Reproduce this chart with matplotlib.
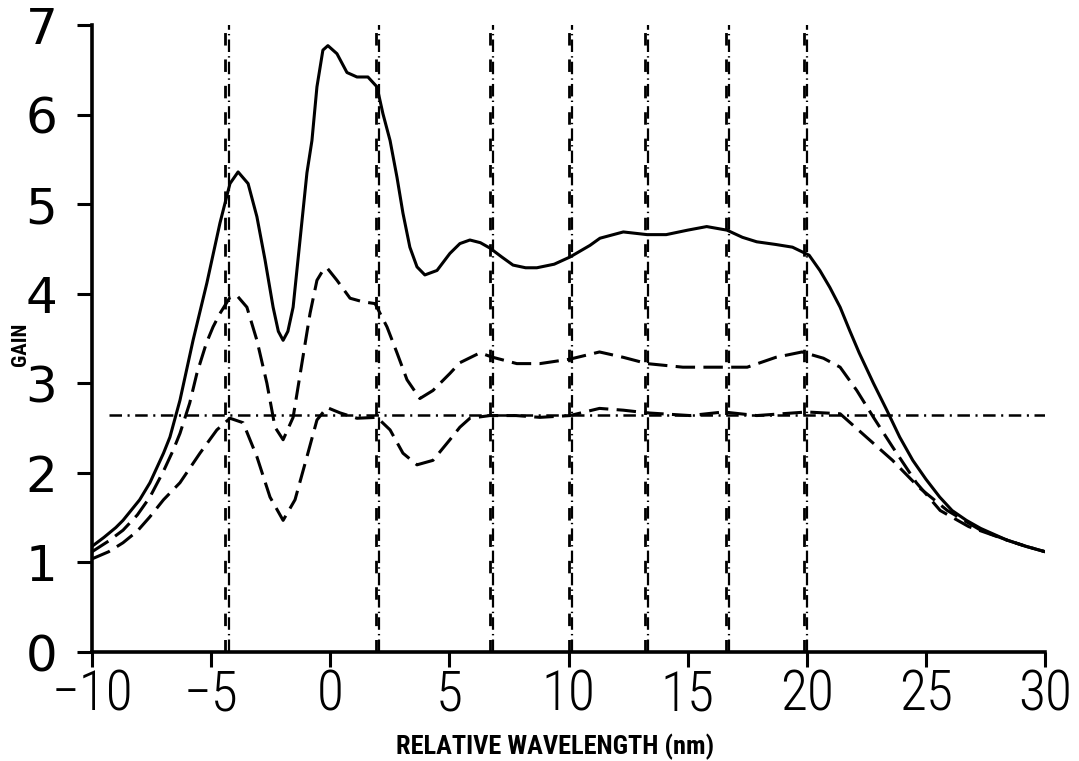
import matplotlib
matplotlib.use("Agg")
import matplotlib.pyplot as plt
from matplotlib import font_manager

# ---- data -------------------------------------------------------------
# upper gain curve (solid)
solid_x = [-10.0, -9.5, -9.0, -8.7, -8.0, -7.57, -7.0, -6.73, -6.31, -5.76,
           -5.18, -4.63, -4.21, -3.87, -3.45, -3.08, -2.74, -2.40, -2.18, -1.98,
           -1.78, -1.56, -1.27, -0.98, -0.77, -0.56, -0.31, -0.1, 0.28, 0.70,
           1.12, 1.58, 1.96, 2.21, 2.51, 2.80, 3.05, 3.34, 3.64, 3.97,
           4.48, 5.02, 5.44, 5.86, 6.3, 6.7, 7.2, 7.67, 8.2, 8.67,
           9.4, 10.06, 10.9, 11.32, 12.3, 13.3, 14.1, 15.0, 15.8, 16.65,
           17.3, 17.9, 18.7, 19.4, 20.1, 20.55, 20.97, 21.4, 21.8, 22.2,
           22.8, 23.36, 23.9, 24.45, 25.0, 25.58, 26.1, 26.7, 27.3, 28.4,
           29.2, 30.0]
solid_y = [1.18, 1.28, 1.39, 1.47, 1.70, 1.89, 2.22, 2.40, 2.81, 3.48,
           4.12, 4.79, 5.23, 5.36, 5.23, 4.86, 4.38, 3.85, 3.58, 3.48,
           3.58, 3.85, 4.60, 5.35, 5.71, 6.31, 6.72, 6.77, 6.68, 6.47,
           6.42, 6.42, 6.31, 6.01, 5.71, 5.30, 4.90, 4.52, 4.30, 4.21,
           4.26, 4.45, 4.56, 4.60, 4.57, 4.51, 4.41, 4.32, 4.29, 4.29,
           4.33, 4.41, 4.54, 4.62, 4.69, 4.66, 4.66, 4.71, 4.75, 4.71,
           4.63, 4.58, 4.55, 4.52, 4.43, 4.26, 4.07, 3.85, 3.59, 3.34,
           3.00, 2.70, 2.40, 2.14, 1.93, 1.73, 1.58, 1.47, 1.38, 1.25,
           1.18, 1.12]

# middle gain curve (dashed)
mid_x = [-10.0, -9.3, -8.7, -8.1, -7.57, -7.0, -6.6, -6.31, -5.9, -5.6,
         -5.2, -4.92, -4.63, -4.21, -3.92, -3.5, -3.08, -2.66, -2.32, -1.98,
         -1.56, -1.15, -0.85, -0.56, -0.31, -0.14, 0.28, 0.83, 1.37, 1.88,
         2.38, 2.80, 3.22, 3.76, 4.31, 5.02, 5.44, 6.28, 6.83, 7.83,
         8.8, 10.06, 11.3, 12.3, 13.3, 14.8, 16.5, 17.5, 18.7, 19.8,
         20.7, 21.4, 22.1, 22.8, 23.6, 24.6, 25.6, 26.8, 28.4, 29.2,
         30.0]
mid_y = [1.12, 1.24, 1.36, 1.53, 1.73, 2.02, 2.25, 2.44, 2.78, 3.11,
         3.45, 3.63, 3.78, 3.96, 3.98, 3.85, 3.48, 3.00, 2.51, 2.37,
         2.62, 3.29, 3.78, 4.15, 4.26, 4.29, 4.15, 3.95, 3.91, 3.89,
         3.63, 3.34, 3.04, 2.83, 2.92, 3.11, 3.23, 3.34, 3.29, 3.22,
         3.22, 3.27, 3.35, 3.29, 3.22, 3.18, 3.18, 3.18, 3.29, 3.35,
         3.28, 3.18, 2.92, 2.62, 2.29, 1.89, 1.58, 1.40, 1.25, 1.18,
         1.12]

# lower gain curve (dashed)
low_x = [-10.0, -9.3, -8.7, -8.1, -7.57, -7.0, -6.31, -5.47, -4.76, -4.21,
         -3.66, -3.08, -2.53, -1.98, -1.48, -0.98, -0.56, -0.14, 0.41, 1.12,
         1.96, 2.51, 3.05, 3.64, 4.31, 5.02, 5.44, 5.86, 6.7, 7.8,
         8.8, 10.06, 11.3, 12.3, 13.3, 15.1, 16.5, 17.9, 20.0, 21.4,
         22.5, 23.6, 24.7, 25.9, 27.3, 28.4, 29.2, 30.0]
low_y = [1.04, 1.12, 1.22, 1.35, 1.51, 1.70, 1.89, 2.22, 2.48, 2.61,
         2.56, 2.18, 1.73, 1.47, 1.70, 2.18, 2.59, 2.73, 2.67, 2.61,
         2.62, 2.48, 2.22, 2.09, 2.14, 2.37, 2.51, 2.61, 2.64, 2.64,
         2.62, 2.64, 2.72, 2.70, 2.67, 2.64, 2.68, 2.64, 2.68, 2.66,
         2.40, 2.14, 1.84, 1.58, 1.36, 1.25, 1.18, 1.12]

# reference gain level (dash-dot)
ref_level = 2.65
ref_start = -9.3

# channel wavelengths (vertical markers)
channels = [-4.4, 1.9, 6.7, 10.0, 13.2, 16.6, 19.9]

x_ticks = [-10, -5, 0, 5, 10, 15, 20, 25, 30]
y_ticks = [0, 1, 2, 3, 4, 5, 6, 7]

# ---- fonts ------------------------------------------------------------
available = {f.name for f in font_manager.fontManager.ttflist}


def pick(*names):
    for n in names:
        if n in available:
            return n
    return "DejaVu Sans"


narrow = pick("Roboto Condensed", "Liberation Sans Narrow", "DejaVu Sans Condensed",
              "DejaVu Sans")
plt.rcParams["lines.scale_dashes"] = False

# ---- figure -----------------------------------------------------------
fig = plt.figure(figsize=(10.79, 7.61), dpi=100, facecolor="white")
ax = fig.add_axes([0.0853, 0.1432, 0.8832, 0.8239])

lw = 2.2
ax.plot(solid_x, solid_y, color="black", lw=lw, solid_capstyle="round",
        solid_joinstyle="round")
ax.plot(mid_x, mid_y, color="black", lw=lw, dashes=(14, 6))
ax.plot(low_x, low_y, color="black", lw=lw, dashes=(14, 6))

ax.plot([ref_start, 30], [ref_level, ref_level], color="black", lw=1.8,
        dashes=(9, 4, 1.5, 4))

for c in channels:
    ax.plot([c, c], [0, 7], color="black", lw=2.0, dashes=(9, 10))
    ax.plot([c + 0.13, c + 0.13], [0, 7], color="black", lw=1.6,
            dashes=(9, 3, 1, 3), dash_capstyle="butt")

ax.set_xlim(-10, 30)
ax.set_ylim(0, 7)

for s in ("top", "right"):
    ax.spines[s].set_visible(False)
for s in ("left", "bottom"):
    ax.spines[s].set_linewidth(2.6)

ax.set_xticks(x_ticks)
ax.set_yticks(y_ticks)
ax.set_xticklabels([str(t).replace("-", "\u2212") for t in x_ticks],
                   fontsize=40, family=narrow, fontweight="light")
ax.set_yticklabels([str(t) for t in y_ticks], fontsize=36, family="DejaVu Sans")
ax.tick_params(axis="both", direction="out", length=11, width=2.2)
ax.tick_params(axis="x", pad=1)
ax.tick_params(axis="y", pad=14)

ax.set_xlabel("RELATIVE WAVELENGTH (nm)", fontsize=19, family=narrow,
              fontweight="bold", va="center")
ax.xaxis.set_label_coords(0.486, -0.152)
ax.set_ylabel("GAIN", fontsize=15, family=narrow, fontweight="bold",
              va="center")
ax.yaxis.set_label_coords(-0.0755, 0.49)

fig.savefig("out.png", dpi=100, facecolor="white")
